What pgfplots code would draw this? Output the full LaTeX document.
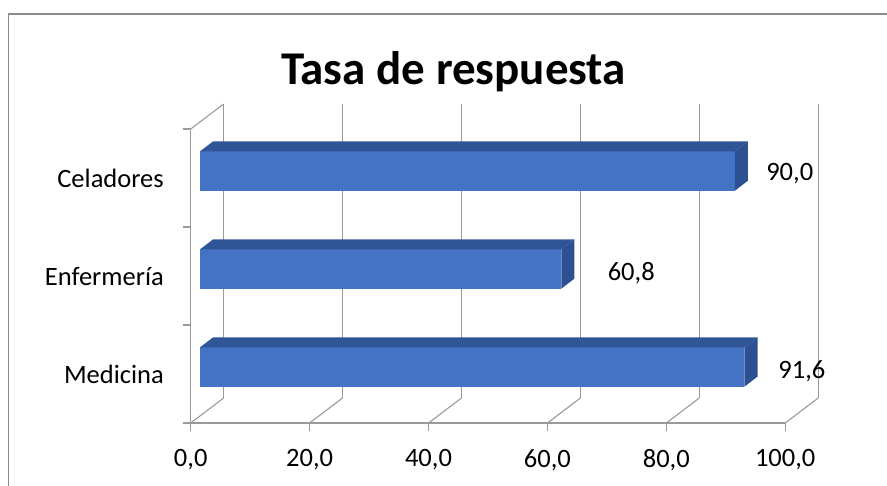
\documentclass[border=0pt]{standalone}
\usepackage{fontspec}
\setmainfont{Carlito}
\usepackage{pgfplots}
\usepackage{pgfplotstable}
\pgfplotsset{compat=1.18}

\definecolor{barfront}{HTML}{4472C4}
\definecolor{bartop}{HTML}{2F5597}
\definecolor{barend}{HTML}{2C5092}
\definecolor{gridgray}{HTML}{9A9A9A}
\definecolor{framegray}{HTML}{8C8C8C}

% y: category slot centre, v: response rate, lx/ly: where the value label sits
\pgfplotstableread{
y   v    lx     ly
0.5 91.6 102.8  0.541
1.5 60.8 74.1   1.544
2.5 90.0 100.76 2.564
}\tasa

% depth of the box: front plane of the bars and their own thickness
\def\fx{1.55}\def\fy{0.071}
\def\bx{2.19}\def\by{0.102}
\def\hb{0.2}

\newcommand\labfont{\fontsize{26.5}{30}\selectfont}

\begin{document}
\begin{tikzpicture}
\useasboundingbox (0,0) rectangle (887pt,-486pt);
\draw[framegray, line width=1.5pt] (8.5pt,-490pt) -- (8.5pt,-14pt) -- (890pt,-14pt);
\node[anchor=base, font=\fontsize{47}{52}\selectfont\bfseries] at (453.5pt,-85pt) {Tasa de respuesta};

\begin{axis}[
  at={(190.7pt,-423pt)}, anchor=origin,
  x=5.945pt, y=98pt,
  xmin=0, xmax=100, ymin=0, ymax=3,
  clip=false,
  axis x line=bottom, axis y line=left,
  axis line style={-, gridgray, line width=1.1pt},
  tick style={gridgray, line width=1.1pt},
  tick align=outside,
  major tick length=0pt, minor tick length=8pt,
  xtick={0,20,...,100},
  minor xtick={0,20,...,100},
  ytick={0.5,1.5,2.5},
  yticklabels={Medicina,Enfermería,Celadores},
  minor ytick={0,1,2,3},
  /pgf/number format/.cd, fixed, fixed zerofill, precision=1, use comma, assume math mode=true,
  /pgfplots/.cd,
  xticklabel style={font=\labfont, anchor=north, inner sep=0pt, text depth=0pt, yshift=-26pt},
  yticklabel style={font=\labfont, anchor=base east, inner sep=0pt, xshift=-26.7pt, yshift=-9.7pt},
]

% back wall
\draw[gridgray, line width=1.1pt] (axis cs:5.55,0.255) -- (axis cs:5.55,3.255);
\draw[gridgray, line width=1.1pt] (axis cs:25.55,0.255) -- (axis cs:25.55,3.255);
\draw[gridgray, line width=1.1pt] (axis cs:45.55,0.255) -- (axis cs:45.55,3.255);
\draw[gridgray, line width=1.1pt] (axis cs:65.55,0.255) -- (axis cs:65.55,3.255);
\draw[gridgray, line width=1.1pt] (axis cs:85.55,0.255) -- (axis cs:85.55,3.255);
\draw[gridgray, line width=1.1pt] (axis cs:105.55,0.255) -- (axis cs:105.55,3.255);
% floor and side wall edges
\draw[gridgray, line width=1.1pt] (axis cs:0,0) -- (axis cs:5.55,0.255);
\draw[gridgray, line width=1.1pt] (axis cs:20,0) -- (axis cs:25.55,0.255);
\draw[gridgray, line width=1.1pt] (axis cs:40,0) -- (axis cs:45.55,0.255);
\draw[gridgray, line width=1.1pt] (axis cs:60,0) -- (axis cs:65.55,0.255);
\draw[gridgray, line width=1.1pt] (axis cs:80,0) -- (axis cs:85.55,0.255);
\draw[gridgray, line width=1.1pt] (axis cs:100,0) -- (axis cs:105.55,0.255);
\draw[gridgray, line width=1.1pt] (axis cs:0,3) -- (axis cs:5.55,3.255);

% the bars: front face, top face and end face of each box
\pgfplotsinvokeforeach{0,1,2}{
  \pgfplotstablegetelem{#1}{y}\of\tasa \pgfmathsetmacro\yc{\pgfplotsretval}
  \pgfplotstablegetelem{#1}{v}\of\tasa \pgfmathsetmacro\vv{\pgfplotsretval}
  \pgfmathsetmacro\xa{\fx}
  \pgfmathsetmacro\xb{\vv+\fx}
  \pgfmathsetmacro\xc{\vv+\fx+\bx}
  \pgfmathsetmacro\xd{\fx+\bx}
  \pgfmathsetmacro\ya{\yc+\fy-\hb}
  \pgfmathsetmacro\yb{\yc+\fy+\hb}
  \pgfmathsetmacro\yta{\ya+\by}
  \pgfmathsetmacro\ytb{\yb+\by}
  \edef\faces{%
    \noexpand\addplot[draw=none, fill=barfront, mark=none] coordinates {(\xa,\ya) (\xb,\ya) (\xb,\yb) (\xa,\yb)};
    \noexpand\addplot[draw=none, fill=bartop, mark=none] coordinates {(\xa,\yb) (\xb,\yb) (\xc,\ytb) (\xd,\ytb)};
    \noexpand\addplot[draw=none, fill=barend, mark=none] coordinates {(\xb,\ya) (\xc,\yta) (\xc,\ytb) (\xb,\yb)};
  }\faces
}

% value labels
\addplot[draw=none, mark=none, nodes near coords, point meta=explicit,
  nodes near coords align={center},
  every node near coord/.append style={font=\labfont, inner sep=0pt, text depth=0pt, anchor=center}]
  table[x=lx, y=ly, meta=v] {\tasa};
\end{axis}
\end{tikzpicture}
\end{document}
